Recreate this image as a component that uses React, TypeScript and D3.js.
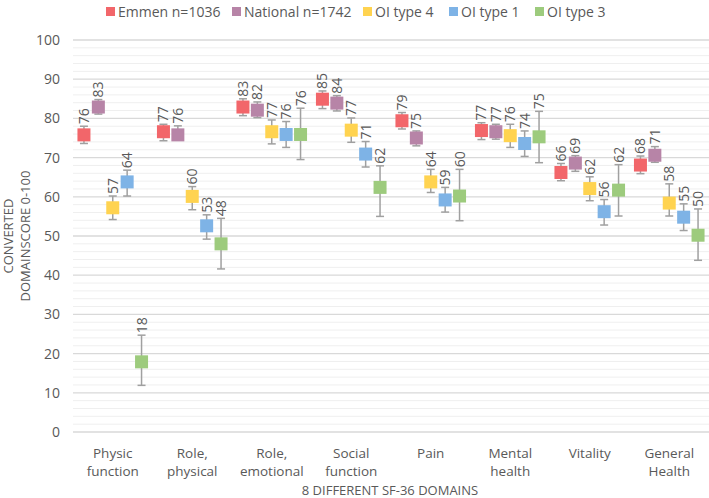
import React, { useEffect, useRef } from "react";
import * as d3 from "d3";

const categories = [
  ["Physic", "function"],
  ["Role,", "physical"],
  ["Role,", "emotional"],
  ["Social", "function"],
  ["Pain"],
  ["Mental", "health"],
  ["Vitality"],
  ["General", "Health"],
];
const seriesNames = ["Emmen n=1036", "National n=1742", "OI type 4", "OI type 1", "OI type 3"];
const seriesColors = ["#F2666A", "#B784A7", "#FFD350", "#7EB3E6", "#9DCB7D"];

const emmenMean = [75.8, 76.6, 82.9, 84.9, 79.4, 76.9, 66.2, 68.1];
const emmenLow = [73.6, 74.3, 80.7, 82.5, 77.3, 74.6, 64.1, 65.9];
const emmenHigh = [78.0, 78.5, 85.0, 87.0, 81.5, 78.9, 68.5, 70.4];

const nationalMean = [82.9, 75.8, 82.1, 83.9, 75.0, 76.6, 68.6, 70.6];
const nationalLow = [81.1, 74.5, 80.2, 81.9, 73.0, 74.7, 66.5, 68.8];
const nationalHigh = [84.8, 78.1, 84.2, 85.8, 76.8, 78.5, 70.5, 72.8];

const oi4Mean = [57.2, 60.1, 76.6, 77.0, 63.8, 75.6, 62.1, 58.4];
const oi4Low = [54.2, 56.7, 73.5, 73.9, 61.1, 72.6, 59.0, 55.1];
const oi4High = [60.2, 62.6, 79.6, 80.1, 67.0, 78.5, 65.1, 63.3];

const oi1Mean = [63.8, 52.6, 75.9, 70.9, 59.2, 73.6, 56.2, 54.8];
const oi1Low = [60.2, 49.2, 72.6, 67.6, 56.1, 70.3, 52.8, 51.4];
const oi1High = [66.8, 55.4, 79.2, 74.1, 62.4, 76.8, 59.3, 58.2];

const oi3Mean = [17.9, 48.0, 75.9, 62.4, 60.2, 75.3, 61.7, 50.2];
const oi3Low = [11.9, 41.6, 69.5, 55.0, 53.9, 68.7, 55.1, 43.8];
const oi3High = [24.7, 54.5, 82.6, 67.9, 67.0, 81.8, 68.2, 56.9];

const yTicks = [0, 10, 20, 30, 40, 50, 60, 70, 80, 90, 100];
const yMinorTicks = d3.range(0, 101, 2);
const yTitle = ["CONVERTED", "DOMAINSCORE 0-100"];
const xTitle = "8 DIFFERENT SF-36 DOMAINS";

const means = [emmenMean, nationalMean, oi4Mean, oi1Mean, oi3Mean];
const lows = [emmenLow, nationalLow, oi4Low, oi1Low, oi3Low];
const highs = [emmenHigh, nationalHigh, oi4High, oi1High, oi3High];

const W = 709;
const H = 498;
const FONT = "'Open Sans', sans-serif";
const TEXT = "#595959";

export default function App() {
  const ref = useRef<SVGSVGElement>(null);

  useEffect(() => {
    const svg = d3.select(ref.current);
    svg.selectAll("*").remove();

    const left = 73, right = 709, top = 40, bottom = 432;
    const x = d3.scaleBand<number>().domain(d3.range(categories.length)).range([left, right]);
    const inner = d3.scalePoint<number>().domain(d3.range(seriesNames.length)).range([-28.8, 28.8]);
    const y = d3.scaleLinear().domain([0, 100]).range([bottom, top]);

    // minor grid
    svg.append("g").selectAll("line").data(yMinorTicks.filter((t) => t % 10 !== 0)).join("line")
      .attr("x1", left).attr("x2", right)
      .attr("y1", (d) => y(d)).attr("y2", (d) => y(d))
      .attr("stroke", "#efefef").attr("stroke-width", 1);
    // major grid
    svg.append("g").selectAll("line").data(yTicks).join("line")
      .attr("x1", left).attr("x2", right)
      .attr("y1", (d) => y(d)).attr("y2", (d) => y(d))
      .attr("stroke", "#d9d9d9").attr("stroke-width", 1.3);

    // y tick labels
    svg.append("g").selectAll("text").data(yTicks).join("text")
      .attr("x", 60).attr("y", (d) => y(d)).attr("dy", "0.35em")
      .attr("text-anchor", "end").attr("font-family", FONT).attr("font-size", 14)
      .attr("fill", TEXT).text((d) => d);

    // y title
    const yt = svg.append("text")
      .attr("transform", `translate(17, 236) rotate(-90)`)
      .attr("text-anchor", "middle").attr("font-family", FONT).attr("font-size", 13)
      .attr("fill", TEXT);
    yTitle.forEach((t, i) => {
      yt.append("tspan").attr("x", 0).attr("y", i * 17 - 4).text(t);
    });

    // x category labels
    const xl = svg.append("g");
    categories.forEach((lines, i) => {
      const t = xl.append("text").attr("text-anchor", "middle").attr("font-family", FONT)
        .attr("font-size", 13.5).attr("fill", TEXT);
      lines.forEach((l, j) => {
        t.append("tspan").attr("x", x(i)! + x.bandwidth() / 2).attr("y", 458 + j * 18).text(l);
      });
    });

    svg.append("text").attr("x", 390).attr("y", 495).attr("text-anchor", "middle")
      .attr("font-family", FONT).attr("font-size", 13).attr("fill", TEXT).text(xTitle);

    // series
    const ms = 13;
    seriesNames.forEach((name, s) => {
      const g = svg.append("g");
      const data = means[s].map((m, i) => ({ i, m, lo: lows[s][i], hi: highs[s][i] }));
      const cx = (d: any) => x(d.i)! + x.bandwidth() / 2 + inner(s)!;
      // error bars
      g.selectAll("line.v").data(data).join("line")
        .attr("x1", cx).attr("x2", cx)
        .attr("y1", (d) => y(d.lo)).attr("y2", (d) => y(d.hi))
        .attr("stroke", "#a0a0a0").attr("stroke-width", 1.5);
      g.selectAll("line.cl").data(data).join("line")
        .attr("x1", (d) => cx(d) - 4).attr("x2", (d) => cx(d) + 4)
        .attr("y1", (d) => y(d.lo)).attr("y2", (d) => y(d.lo))
        .attr("stroke", "#a0a0a0").attr("stroke-width", 1.5);
      g.selectAll("line.ch").data(data).join("line")
        .attr("x1", (d) => cx(d) - 4).attr("x2", (d) => cx(d) + 4)
        .attr("y1", (d) => y(d.hi)).attr("y2", (d) => y(d.hi))
        .attr("stroke", "#a0a0a0").attr("stroke-width", 1.5);
      // markers
      g.selectAll("rect").data(data).join("rect")
        .attr("x", (d) => cx(d) - ms / 2).attr("y", (d) => y(d.m) - ms / 2)
        .attr("width", ms).attr("height", ms).attr("fill", seriesColors[s]);
      // labels
      g.selectAll("text").data(data).join("text")
        .attr("transform", (d) => `translate(${cx(d) + 5}, ${y(d.hi) - 2}) rotate(-90)`)
        .attr("text-anchor", "start").attr("font-family", FONT).attr("font-size", 14)
        .attr("fill", TEXT).text((d) => Math.round(d.m));
    });

    // legend
    const legendX = [106, 232, 363, 449, 535];
    const lg = svg.append("g");
    seriesNames.forEach((name, s) => {
      lg.append("rect").attr("x", legendX[s]).attr("y", 7).attr("width", 9).attr("height", 9)
        .attr("fill", seriesColors[s]);
      lg.append("text").attr("x", legendX[s] + 12).attr("y", 12).attr("dy", "0.35em")
        .attr("font-family", FONT).attr("font-size", 14).attr("fill", TEXT).text(name);
    });
  }, []);

  return (
    <svg ref={ref} width={W} height={H} style={{ position: "absolute", left: 0, top: 0, background: "#fff" }} />
  );
}
